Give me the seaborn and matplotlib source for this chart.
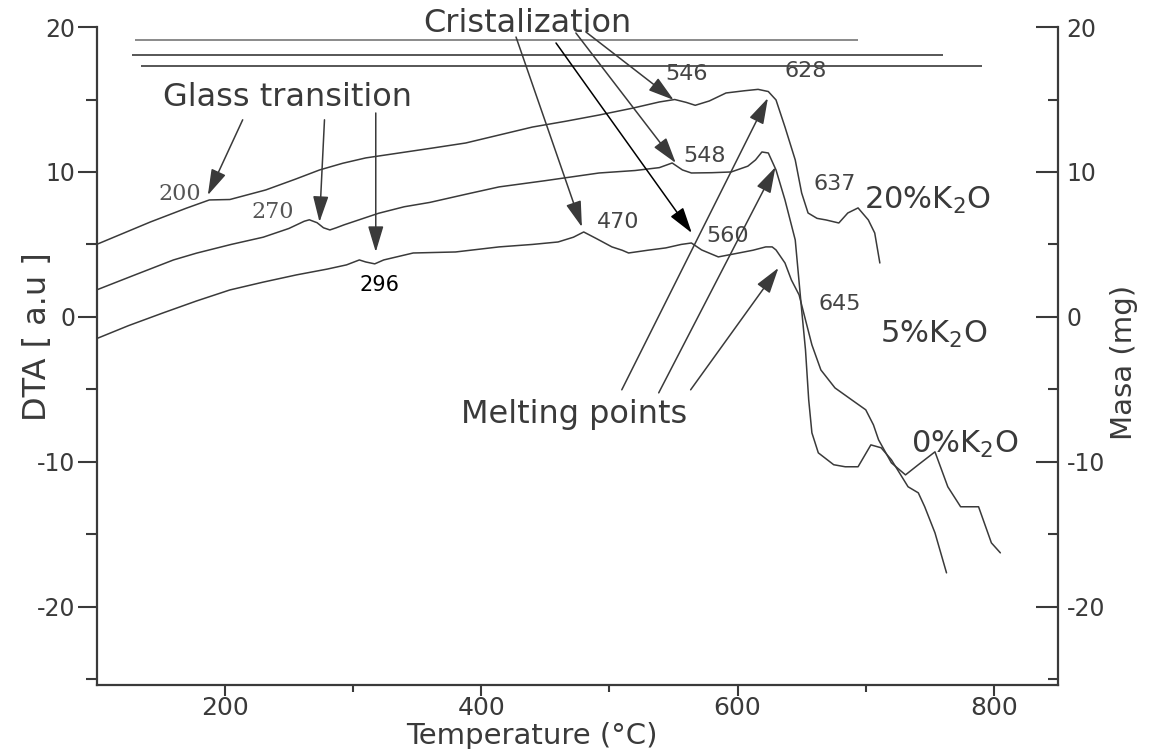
import matplotlib
matplotlib.use('Agg')
import pandas as pd
import matplotlib.pyplot as plt
import seaborn as sns

# DTA curves (temperature in degC, DTA in a.u.)
temp_20 = [100, 142, 170, 188, 204, 232, 255, 274, 292, 310, 336, 362, 388, 414, 440, 466,
           492, 518, 539, 551, 560, 567, 578, 591, 605, 616, 624, 630, 637, 645, 650, 655,
           662, 669, 679, 686, 694, 702, 707, 711]
dta_20 = [5.0, 6.55, 7.5, 8.07, 8.1, 8.76, 9.5, 10.14, 10.6, 10.97, 11.31, 11.65, 12.0, 12.55,
          13.1, 13.5, 13.93, 14.4, 14.83, 15.0, 14.8, 14.6, 14.9, 15.45, 15.6, 15.7, 15.55,
          14.97, 13.1, 10.83, 8.55, 7.17, 6.8, 6.69, 6.48, 7.17, 7.52, 6.69, 5.79, 3.72]

temp_5 = [100, 130, 160, 178, 205, 230, 250, 262, 266, 272, 277, 282, 287, 293, 320, 340,
          360, 390, 414, 450, 492, 520, 539, 549, 557, 564, 580, 595, 608, 614, 619, 624,
          630, 637, 645, 650, 653, 655.5, 658, 663, 675, 684, 694, 704, 712, 720, 733, 741,
          746, 754, 763]
dta_5 = [1.86, 2.9, 3.93, 4.4, 5.0, 5.5, 6.1, 6.6, 6.7, 6.5, 6.15, 6.0, 6.15, 6.35, 7.15, 7.6,
         7.9, 8.5, 8.97, 9.4, 9.93, 10.1, 10.3, 10.62, 10.14, 9.93, 9.95, 10.0, 10.4, 10.83,
         11.38, 11.31, 10.14, 8.07, 5.31, 0.48, -2.28, -5.72, -8.0, -9.38, -10.2, -10.34,
         -10.34, -8.83, -9.03, -9.86, -11.72, -12.14, -13.1, -14.9, -17.66]

temp_0 = [100, 125, 152, 178, 204, 230, 256, 280, 295, 305, 310, 317, 324, 347, 380, 414,
          440, 460, 472, 480, 490, 502, 510, 515, 530, 544, 556, 564, 572, 585, 601, 612,
          622, 627, 630, 637, 642, 648, 653, 658, 665, 676, 689, 700, 706, 710, 720, 731,
          741, 754, 764, 774, 788, 798, 805]
dta_0 = [-1.5, -0.6, 0.28, 1.1, 1.86, 2.4, 2.9, 3.3, 3.59, 3.93, 3.79, 3.66, 3.93, 4.41, 4.48,
         4.83, 5.0, 5.17, 5.5, 5.86, 5.4, 4.83, 4.6, 4.41, 4.6, 4.76, 5.0, 5.1, 4.62, 4.14,
         4.41, 4.6, 4.83, 4.83, 4.62, 3.72, 2.55, 1.52, -0.21, -1.93, -3.66, -4.9, -5.72,
         -6.41, -7.45, -8.48, -10.07, -10.9, -10.2, -9.31, -11.72, -13.1, -13.1, -15.59,
         -16.28]

# flat mass (TG) baselines at the top
mass_level = [19.1, 18.07, 17.31]
mass_start = [130, 128, 135]
mass_end = [694, 760, 791]

sns.set_style('ticks')
plt.rcParams['font.family'] = ['DejaVu Sans']
plt.rcParams['axes.unicode_minus'] = False

ink = '#3a3a3a'

fig = plt.figure(figsize=(11.59, 7.49), dpi=100)
ax = fig.add_axes([0.0833, 0.0854, 0.8296, 0.8785])

for t, d in [(temp_20, dta_20), (temp_5, dta_5), (temp_0, dta_0)]:
    sns.lineplot(x=t, y=d, ax=ax, color=ink, lw=1.1, sort=False, estimator=None)

ax.hlines(mass_level, mass_start, mass_end, colors=['#777777', '#3a3a3a', '#3a3a3a'], lw=1.2)

ax.set_xlim(100, 850)
ax.set_ylim(-25.4, 20)
ax.set_xticks([200, 400, 600, 800])
ax.set_xticks([300, 500, 700], minor=True)
ax.set_yticks([-20, -10, 0, 10, 20])
ax.set_yticks([-25, -15, -5, 5, 15], minor=True)

ax.spines['top'].set_visible(False)
ax.spines['right'].set_visible(False)
for s in ['left', 'bottom']:
    ax.spines[s].set_linewidth(1.6)
    ax.spines[s].set_color(ink)

ax.tick_params(axis='x', which='major', direction='out', length=8, width=1.5,
               labelsize=18, pad=0, colors=ink)
ax.tick_params(axis='x', which='minor', direction='out', length=5, width=1.5, colors=ink)
ax.tick_params(axis='y', which='major', direction='out', length=14, width=1.5,
               labelsize=17, pad=1, colors=ink)
ax.tick_params(axis='y', which='minor', direction='out', length=8, width=1.5, colors=ink)

ax.set_xlabel('Temperature (°C)', fontsize=21, color=ink)
ax.xaxis.set_label_coords(0.453, -0.056)
ax.set_ylabel('DTA [ a.u ]', fontsize=23, color=ink)
ax.yaxis.set_label_coords(-0.045, 0.53)

# right axis (mass)
ax2 = ax.twinx()
ax2.set_ylim(-25.4, 20)
ax2.set_yticks([-20, -10, 0, 10, 20])
ax2.set_yticks([-25, -15, -5, 5, 15], minor=True)
for s in ['left', 'bottom', 'top']:
    ax2.spines[s].set_visible(False)
ax2.spines['right'].set_linewidth(1.6)
ax2.spines['right'].set_color(ink)
ax2.tick_params(axis='y', which='major', direction='in', length=16, width=1.5,
                labelsize=17, pad=6, colors=ink)
ax2.tick_params(axis='y', which='minor', direction='in', length=7, width=1.5, colors=ink)
ax2.set_ylabel('Masa (mg)', fontsize=21, color=ink)
ax2.yaxis.set_label_coords(1.054, 0.49)

# group captions
ax.text(355, 19.66, 'Cristalization', fontsize=23, color=ink)
ax.text(152, 14.55, 'Glass transition', fontsize=23, color=ink)
ax.text(384, -7.3, 'Melting points', fontsize=23, color=ink)
ax.text(699, 7.45, '20%K$_2$O', fontsize=22, color=ink)
ax.text(711, -1.8, '5%K$_2$O', fontsize=22, color=ink)
ax.text(735, -9.4, '0%K$_2$O', fontsize=22, color=ink)

# peak temperatures
serif_marks = [(148, 8.07, '200'), (221, 6.83, '270')]
for x, y, s in serif_marks:
    ax.text(x, y, s, fontsize=16, color='#555555', family='DejaVu Serif')
sans_marks = [(490, 6.14, '470'), (576, 5.17, '560'), (544, 16.34, '546'),
              (558, 10.69, '548'), (637, 16.55, '628'), (659, 8.76, '637'),
              (663, 0.48, '645')]
for x, y, s in sans_marks:
    ax.text(x, y, s, fontsize=16, color='#444444')
ax.text(305, 1.79, '296', fontsize=15, color='black')

# arrows: (tail, head)
arrows = [((214, 13.6), (186.8, 8.4)), ((277.8, 13.6), (273.9, 6.55)),
          ((317.8, 14.07), (317.8, 4.48)),
          ((427.2, 19.31), (478.6, 6.2)), ((473.9, 19.59), (551.8, 10.62)),
          ((481.7, 19.66), (550.2, 14.97)),
          ((509.7, -5.03), (623.7, 15.1)), ((538.5, -5.24), (629.6, 10.34)),
          ((563.4, -5.03), (631.9, 3.38))]
for tail, head in arrows:
    ax.annotate('', xy=head, xytext=tail,
                arrowprops=dict(arrowstyle='-|>,head_length=1.0,head_width=0.3',
                                color=ink, lw=1.1, shrinkA=0, shrinkB=0, mutation_scale=16))
ax.annotate('', xy=(564.3, 5.79), xytext=(458.4, 18.9),
            arrowprops=dict(arrowstyle='-|>,head_length=1.0,head_width=0.3',
                            color='black', lw=1.1, shrinkA=0, shrinkB=0, mutation_scale=16))

fig.savefig('out.png', dpi=100)
